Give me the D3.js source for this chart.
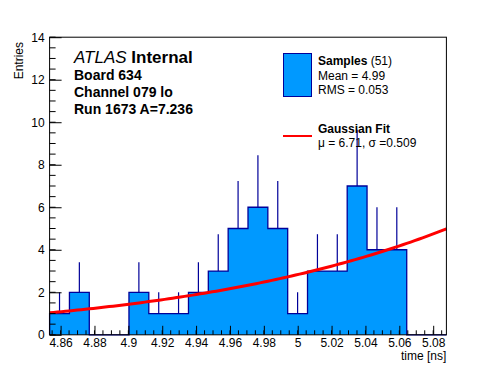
<!DOCTYPE html>
<html>
<head>
<meta charset="utf-8">
<script src="https://cdn.jsdelivr.net/npm/d3@7/dist/d3.min.js"></script>
<style>
  html, body { margin: 0; padding: 0; background: #fff; }
  svg { display: block; font-family: "Liberation Sans", Arial, Helvetica, sans-serif; }
</style>
</head>
<body>
<svg id="chart" width="496" height="372"></svg>
<script>
// ---- data ----
const xRange = [4.8535, 5.0878];          // histogram range (ns)
const binCounts = [1, 2, 0, 0, 2, 1, 1, 2, 3, 5, 6, 5, 1, 3, 3, 7, 4, 4, 0, 0];
const yRange = [0, 14];
const xTickValues = [4.86, 4.88, 4.90, 4.92, 4.94, 4.96, 4.98, 5.00, 5.02, 5.04, 5.06, 5.08];
const xTickLabels = ["4.86", "4.88", "4.9", "4.92", "4.94", "4.96", "4.98", "5", "5.02", "5.04", "5.06", "5.08"];
const yTickValues = [0, 2, 4, 6, 8, 10, 12, 14];
const fitParams = { amp: 800, mu: 6.71, sigma: 0.509 };
const infoLines = ["Board 634", "Channel 079 lo", "Run 1673 A=7.236"];
const legendSamples = { name: "Samples", count: "(51)", mean: "Mean = 4.99", rms: "RMS = 0.053" };
const legendFit = { name: "Gaussian Fit", params: "\u03bc = 6.71, \u03c3 =0.509" };

// ---- layout ----
const svg = d3.select("#chart");
const L = 49.6, R = 446.4, T = 37.2, B = 334.8;
const fillCol = "#0099ff", lineCol = "#000099", fitCol = "#ff0000";

const x = d3.scaleLinear().domain(xRange).range([L, R]);
const y = d3.scaleLinear().domain(yRange).range([B, T]);
const nb = binCounts.length;
const bw = (xRange[1] - xRange[0]) / nb;
const bins = binCounts.map((n, i) => ({ x0: xRange[0] + i * bw, x1: xRange[0] + (i + 1) * bw, n }));

// histogram fill + step outline
const pts = [[x(xRange[0]), y(0)]];
bins.forEach(b => { pts.push([x(b.x0), y(b.n)]); pts.push([x(b.x1), y(b.n)]); });
pts.push([x(xRange[1]), y(0)]);
svg.append("path").attr("d", d3.line()(pts) + "Z").attr("fill", fillCol).attr("stroke", "none");
svg.append("path").attr("d", d3.line()(pts)).attr("fill", "none").attr("stroke", lineCol).attr("stroke-width", 1.3);

// error bars (visible part above the bar top)
svg.append("g").selectAll("line").data(bins.filter(b => b.n > 0)).join("line")
  .attr("x1", b => x((b.x0 + b.x1) / 2)).attr("x2", b => x((b.x0 + b.x1) / 2))
  .attr("y1", b => y(b.n)).attr("y2", b => y(b.n + Math.sqrt(b.n)))
  .attr("stroke", lineCol).attr("stroke-width", 1.2);

// gaussian fit
const gauss = v => fitParams.amp * Math.exp(-Math.pow(v - fitParams.mu, 2) / (2 * fitParams.sigma * fitParams.sigma));
const fitPts = d3.range(0, 101).map(i => xRange[0] + (xRange[1] - xRange[0]) * i / 100);
svg.append("path")
  .attr("d", d3.line().x(v => x(v)).y(v => y(gauss(v)))(fitPts))
  .attr("fill", "none").attr("stroke", fitCol).attr("stroke-width", 3);

// frame
svg.append("rect").attr("x", L).attr("y", T).attr("width", R - L).attr("height", B - T)
  .attr("fill", "none").attr("stroke", "#000").attr("stroke-width", 1);

// x axis
const xMinor = d3.range(Math.ceil(xRange[0] / 0.005), Math.floor(xRange[1] / 0.005) + 1).map(k => k * 0.005);
const xa = d3.axisBottom(x).tickValues(xTickValues).tickFormat((d, i) => xTickLabels[i]).tickSizeInner(-9).tickSizeOuter(0).tickPadding(3.5);
const gx = svg.append("g").attr("transform", `translate(0,${B})`).call(xa);
gx.select(".domain").remove();
gx.selectAll("text").attr("font-size", 12).attr("fill", "#000").attr("font-family", "Liberation Sans, Arial, sans-serif");
gx.selectAll(".tick line").attr("stroke", "#000");
svg.append("g").selectAll("line").data(xMinor).join("line")
  .attr("x1", d => x(d)).attr("x2", d => x(d)).attr("y1", B).attr("y2", B - 4.5).attr("stroke", "#000");

// y axis
const yMinor = d3.range(0, 14.01, 0.5);
const ya = d3.axisLeft(y).tickValues(yTickValues).tickFormat(d3.format("d")).tickSizeInner(-12).tickSizeOuter(0).tickPadding(5);
const gy = svg.append("g").attr("transform", `translate(${L},0)`).call(ya);
gy.select(".domain").remove();
gy.selectAll("text").attr("font-size", 12).attr("fill", "#000").attr("font-family", "Liberation Sans, Arial, sans-serif");
gy.selectAll(".tick line").attr("stroke", "#000");
svg.append("g").selectAll("line").data(yMinor).join("line")
  .attr("x1", L).attr("x2", L + 6).attr("y1", d => y(d)).attr("y2", d => y(d)).attr("stroke", "#000");

// axis titles
svg.append("text").attr("x", R).attr("y", 360).attr("text-anchor", "end").attr("font-size", 12).text("time [ns]");
svg.append("text").attr("transform", `translate(23,42) rotate(-90)`).attr("text-anchor", "end")
  .attr("font-size", 12).text("Entries");

// ATLAS label
const at = svg.append("text").attr("x", 74).attr("y", 63).attr("font-size", 17);
at.append("tspan").attr("font-style", "italic").text("ATLAS ");
at.append("tspan").attr("font-weight", "bold").text("Internal");
infoLines.forEach((s, i) => {
  svg.append("text").attr("x", 74).attr("y", 80 + i * 17).attr("font-size", 14).attr("font-weight", "bold").text(s);
});

// legend
svg.append("rect").attr("x", 283.5).attr("y", 53.5).attr("width", 28).attr("height", 43)
  .attr("fill", fillCol).attr("stroke", lineCol).attr("stroke-width", 1);
const t1 = svg.append("text").attr("x", 318).attr("y", 65).attr("font-size", 12);
t1.append("tspan").attr("font-weight", "bold").text(legendSamples.name + " ");
t1.append("tspan").text(legendSamples.count);
svg.append("text").attr("x", 318).attr("y", 79.5).attr("font-size", 12).text(legendSamples.mean);
svg.append("text").attr("x", 318).attr("y", 94).attr("font-size", 12).text(legendSamples.rms);
svg.append("line").attr("x1", 283).attr("x2", 312).attr("y1", 136).attr("y2", 136)
  .attr("stroke", fitCol).attr("stroke-width", 2);
svg.append("text").attr("x", 318).attr("y", 133).attr("font-size", 12).attr("font-weight", "bold").text(legendFit.name);
svg.append("text").attr("x", 318).attr("y", 146.5).attr("font-size", 12).text(legendFit.params);
</script>
</body>
</html>
